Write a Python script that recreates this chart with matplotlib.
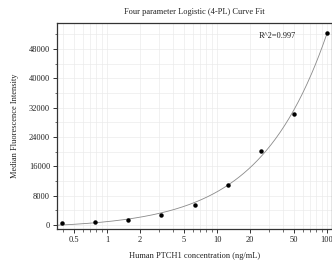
from matplotlib import pyplot as plt
from matplotlib.ticker import FixedLocator, LogLocator, NullFormatter, MultipleLocator
import numpy as np

# Datos
# ========================================
conc = np.array([0.39, 0.78, 1.56, 3.125, 6.25, 12.5, 25, 50, 100])
mfi = np.array([460, 900, 1370, 2730, 5460, 10840, 20280, 30220, 52500])
r2_text = "R^2=0.997"
xticks = [0.5, 1, 2, 5, 10, 20, 50, 100]
xtick_labels = ["0.5", "1", "2", "5", "10", "20", "50", "100"]
yticks = [0, 8000, 16000, 24000, 32000, 40000, 48000]

# Ajuste 4PL (busqueda en rejilla para B y C, A y D por minimos cuadrados)
# ========================================
Bs = np.linspace(0.5, 2.5, 201)[:, None, None]
Cs = np.logspace(0, 4, 401)[None, :, None]
g = 1.0 / (1.0 + (Cs / conc[None, None, :]) ** Bs)
gm = g.mean(axis=2, keepdims=True)
ym = mfi.mean()
b = ((g - gm) * (mfi - ym)).sum(axis=2, keepdims=True) / ((g - gm) ** 2).sum(axis=2, keepdims=True)
a = ym - b * gm
sse = ((a + b * g - mfi) ** 2).sum(axis=2)
i, j = np.unravel_index(np.argmin(sse), sse.shape)
B = Bs[i, 0, 0]
C = Cs[0, j, 0]
A = a[i, j, 0]
D = A + b[i, j, 0]

xlo, xhi = 0.351, 111
xfit = np.logspace(np.log10(xlo), np.log10(100), 300)
yfit = A + (D - A) / (1.0 + (C / xfit) ** B)

plt.rcParams['font.family'] = ['Liberation Serif', 'DejaVu Serif']

fig = plt.figure(figsize=(3.32, 2.66), dpi=100)
ax = fig.add_axes([57 / 332, 37 / 266, 275 / 332, 206 / 266])

ax.plot(xfit, yfit, c="#8a8a8a", lw=0.6, zorder=2)
ax.plot(conc, mfi, "o", c="black", ms=2.2, zorder=3)

ax.set_xscale("log")
ax.set_xlim(xlo, xhi)
ax.set_ylim(-1100, 55100)
ax.xaxis.set_major_locator(FixedLocator(xticks))
ax.set_xticklabels(xtick_labels)
ax.xaxis.set_minor_locator(LogLocator(base=10, subs=np.arange(1, 10)))
ax.xaxis.set_minor_formatter(NullFormatter())
ax.set_yticks(yticks)
ax.yaxis.set_minor_locator(MultipleLocator(4000))

ax.grid(True, which="both", color="#ebebeb", lw=0.5, zorder=0)
ax.set_axisbelow(True)
ax.tick_params(which="major", length=3, width=0.7, labelsize=6, pad=2, colors="#333333")
ax.tick_params(which="minor", length=1.8, width=0.5, colors="#333333")
ax.tick_params(labelcolor="#222222")
for s in ax.spines.values():
    s.set_linewidth(0.9)
    s.set_color("#333333")

fig.text(259 / 332, 1 - 35.7 / 266, r2_text, fontsize=6, va="center", ha="left", color="#222222")
fig.text(194 / 332, 1 - 12 / 266, "Four parameter Logistic (4-PL) Curve Fit", ha="center", va="center", fontsize=6, color="#222222")
ax.set_xlabel("Human PTCH1 concentration (ng/mL)", fontsize=6, labelpad=6, color="#222222")
ax.set_ylabel("Median Fluorescence Intensity", fontsize=6, labelpad=7, color="#222222")

fig.savefig("out.png", dpi=100)
